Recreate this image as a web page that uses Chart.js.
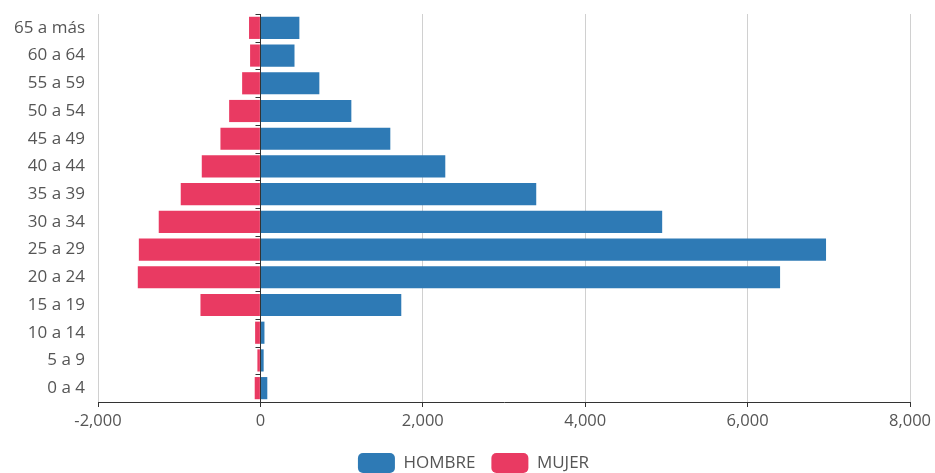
<!DOCTYPE html>
<html>
<head>
<meta charset="utf-8">
<script src="https://cdn.jsdelivr.net/npm/chart.js@4/dist/chart.umd.min.js"></script>
<style>
  html, body { margin: 0; padding: 0; background: #fff; }
  #wrap { width: 935px; height: 473px; }
</style>
</head>
<body>
<div id="wrap"><canvas id="pyramid"></canvas></div>
<script>
// age groups, youngest first (the y axis is reversed so 0 a 4 sits at the bottom)
const ageGroups = ['0 a 4', '5 a 9', '10 a 14', '15 a 19', '20 a 24', '25 a 29', '30 a 34',
    '35 a 39', '40 a 44', '45 a 49', '50 a 54', '55 a 59', '60 a 64', '65 a más'];
const hombres = [85, 40, 50, 1735, 6400, 6966, 4948, 3397, 2277, 1600, 1120, 726, 420, 480];
// women are plotted to the left of zero
const mujeres = [-70, -37, -65, -738, -1510, -1497, -1252, -981, -722, -492, -385, -225, -127, -140];
const xTicks = [-2000, 0, 2000, 4000, 6000, 8000];

const textColor = '#555';
const axisColor = '#333';
const fontFamily = "'Open Sans', sans-serif";

// dark line at zero with small ticks between the age groups
const zeroAxis = {
    id: 'zeroAxis',
    afterDatasetsDraw(chart) {
        const x = chart.scales.x, y = chart.scales.y, ctx = chart.ctx;
        const x0 = Math.round(x.getPixelForValue(0)) + 0.5;
        ctx.save();
        ctx.strokeStyle = axisColor;
        ctx.lineWidth = 1;
        ctx.beginPath();
        ctx.moveTo(x0, y.top);
        ctx.lineTo(x0, y.bottom);
        const band = (y.bottom - y.top) / ageGroups.length;
        for (let i = 0; i <= ageGroups.length; i++) {
            const py = Math.round(y.top + i * band) + 0.5;
            ctx.moveTo(x0 - 5, py);
            ctx.lineTo(x0, py);
        }
        ctx.stroke();
        ctx.restore();
    }
};

new Chart(document.getElementById('pyramid'), {
    type: 'bar',
    data: {
        labels: ageGroups,
        datasets: [
            {label: 'HOMBRE', data: hombres, backgroundColor: '#2e7ab5', borderWidth: 0},
            {label: 'MUJER', data: mujeres, backgroundColor: '#e93a62', borderWidth: 0}
        ]
    },
    options: {
        indexAxis: 'y',
        responsive: true,
        maintainAspectRatio: false,
        animation: false,
        layout: {padding: {top: 14, right: -12, left: 0, bottom: -10}},
        datasets: {bar: {categoryPercentage: 0.8, barPercentage: 1}},
        plugins: {
            legend: {
                position: 'bottom',
                labels: {
                    boxWidth: 37,
                    boxHeight: 20,
                    useBorderRadius: true,
                    borderRadius: 5,
                    padding: 16,
                    color: textColor,
                    font: {family: fontFamily, size: 17}
                }
            },
            tooltip: {enabled: false}
        },
        scales: {
            x: {
                stacked: true,
                min: -2000,
                max: 8000,
                afterBuildTicks: s => { s.ticks = xTicks.map(v => ({value: v})); },
                border: {color: axisColor, width: 1},
                grid: {
                    color: ctx => ctx.tick && ctx.tick.value === 0 ? 'rgba(0,0,0,0)' : '#d0d0d0',
                    tickColor: axisColor,
                    tickLength: 5
                },
                ticks: {
                    color: textColor,
                    padding: 4,
                    font: {family: fontFamily, size: 16.5},
                    callback: v => v.toLocaleString('en-US')
                },
                afterFit: s => {
                    s.height = 35;
                    s.paddingRight = 25;
                }
            },
            y: {
                stacked: true,
                reverse: true,
                border: {display: false},
                grid: {display: false},
                ticks: {
                    color: textColor,
                    padding: 5,
                    font: {family: fontFamily, size: 17}
                },
                afterFit: s => {
                    s.width = 98;
                    s.paddingTop = 0;
                    s.paddingBottom = 0;
                }
            }
        }
    },
    plugins: [zeroAxis]
});
</script>
</body>
</html>
